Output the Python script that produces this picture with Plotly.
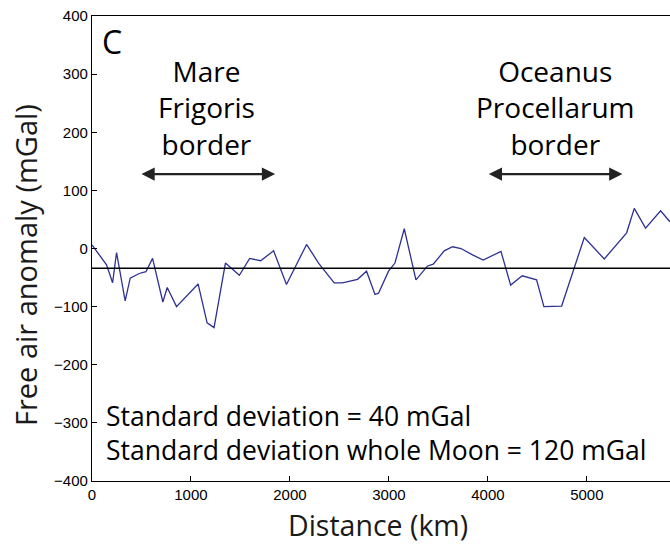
import plotly.graph_objects as go

distance_km = [0, 147, 208, 248, 335, 386, 477, 545, 612, 716, 760, 854, 1072, 1163, 1233,
               1348, 1489, 1593, 1704, 1835, 1965, 2168, 2289, 2447, 2531, 2683, 2774, 2859,
               2895, 2996, 3061, 3155, 3273, 3391, 3448, 3559, 3643, 3728, 3845, 3952, 4132,
               4230, 4347, 4492, 4566, 4745, 4974, 5176, 5402, 5479, 5593, 5745, 5839]
anomaly_mgal = [6, -28, -59, -7, -90, -51, -43, -40, -17, -92, -67, -100, -61, -128, -136,
                -25, -46, -17, -21, -4, -62, 7, -25, -59, -59, -53, -39, -79,
                -77, -39, -25, 34, -54, -30, -27, -4, 3, 0, -11, -20, -5,
                -63, -47, -54, -100, -99, 19, -18, 27, 69, 35, 65, 46]
mean_level = -34
x_ticks = [0, 1000, 2000, 3000, 4000, 5000]
y_ticks = [-400, -300, -200, -100, 0, 100, 200, 300, 400]
x_range = [0, 5840]
y_range = [-400, 400]

TEXT_FONT = "Open Sans"
TICK_FONT = "Liberation Sans"
INK = "#1a1a1a"

fig = go.Figure()
fig.add_trace(go.Scatter(x=distance_km, y=anomaly_mgal, mode="lines",
                         line=dict(color="#2e3192", width=1.3), showlegend=False))
fig.add_trace(go.Scatter(x=x_range, y=[mean_level, mean_level], mode="lines",
                         line=dict(color="black", width=1.3), showlegend=False))

fig.update_layout(
    width=670, height=544,
    margin=dict(l=92, r=0, t=16, b=63),
    plot_bgcolor="white", paper_bgcolor="white",
    xaxis=dict(range=x_range, tickvals=x_ticks, ticks="inside", ticklen=5,
               tickcolor="black", showline=True, linecolor="black", linewidth=1.3,
               mirror=True, showgrid=False, zeroline=False,
               tickfont=dict(family=TICK_FONT, size=15, color="black")),
    yaxis=dict(range=y_range, tickvals=y_ticks, ticks="inside", ticklen=5,
               tickcolor="black", showline=True, linecolor="black", linewidth=1.3,
               showgrid=False, zeroline=False,
               tickfont=dict(family=TICK_FONT, size=15, color="black")),
)

# axis titles
fig.add_annotation(x=0.494, y=-0.0484, xref="paper", yref="paper", text="Distance (km)",
                   showarrow=False, xanchor="center", yanchor="top",
                   font=dict(family=TEXT_FONT, size=28.5, color=INK))
fig.add_annotation(x=-0.1159, y=0.4645, xref="paper", yref="paper", text="Free air anomaly (mGal)",
                   showarrow=False, xanchor="center", yanchor="middle", textangle=-90,
                   font=dict(family=TEXT_FONT, size=29, color=INK))

fig.add_annotation(x=0.0138, y=0.9966, xref="paper", yref="paper", text="C", showarrow=False,
                   xanchor="left", yanchor="top", font=dict(family=TEXT_FONT, size=32, color="black"))
fig.add_annotation(x=1158, y=342, text="Mare<br>Frigoris<br>border", showarrow=False,
                   xanchor="center", yanchor="top", align="center",
                   font=dict(family=TEXT_FONT, size=28, color="black"))
fig.add_annotation(x=4687, y=342, text="Oceanus<br>Procellarum<br>border", showarrow=False,
                   xanchor="center", yanchor="top", align="center",
                   font=dict(family=TEXT_FONT, size=28, color="black"))
for x0, x1 in [(485, 1850), (3994, 5359)]:
    fig.add_annotation(x=x1, y=128, ax=x0, ay=128, xref="x", yref="y", axref="x", ayref="y",
                       text="", showarrow=True, arrowhead=2, arrowside="end+start",
                       arrowsize=1.2, arrowwidth=2.2, arrowcolor="#222")
fig.add_annotation(x=126, y=-254, text="Standard deviation = 40 mGal<br>Standard deviation whole Moon = 120 mGal",
                   showarrow=False, xanchor="left", yanchor="top", align="left",
                   font=dict(family=TEXT_FONT, size=26.5, color="black"))

fig.write_html("out.html")
